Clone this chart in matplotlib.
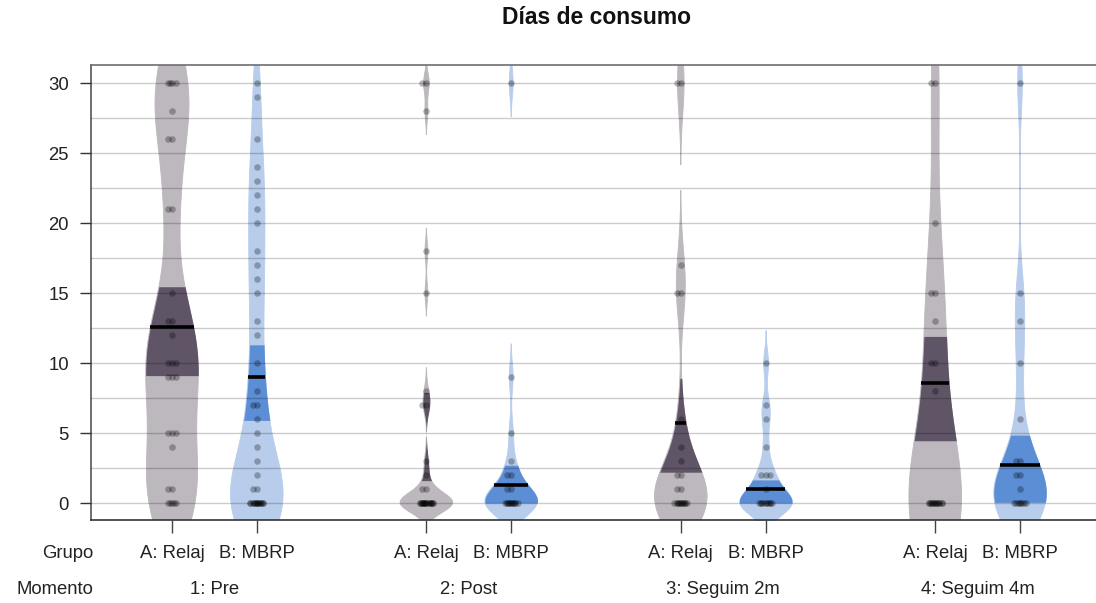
import numpy as np
import matplotlib
matplotlib.use("Agg")
import matplotlib.pyplot as plt
from matplotlib import mlab
from matplotlib.transforms import blended_transform_factory

plt.rcParams["font.family"] = ["Liberation Sans", "DejaVu Sans"]

TITULO = "Días de consumo"
GRUPOS = ["A: Relaj", "B: MBRP"]
MOMENTOS = ["1: Pre", "2: Post", "3: Seguim 2m", "4: Seguim 4m"]

pre_a = [30, 30, 30, 30, 28, 26, 26, 21, 21, 15, 13, 13, 12, 10, 10, 10,
         9, 9, 9, 5, 5, 5, 4, 1, 1, 0, 0, 0, 0, 0]
pre_b = [30, 29, 26, 24, 23, 22, 21, 20, 18, 17, 16, 15, 13, 12, 10, 8, 7, 7,
         6, 5, 4, 3, 2, 1, 1, 0, 0, 0, 0, 0, 0, 0, 0, 0, 0, 0, 0, 0, 0, 0]
post_a = [30, 30, 28, 18, 15, 8, 7, 7, 3, 2, 1, 1, 0, 0, 0, 0, 0, 0, 0, 0, 0,
          0, 0, 0, 0, 0, 0, 0, 0, 0]
post_b = [30, 9, 5, 3, 2, 2, 1, 1, 0, 0, 0, 0, 0, 0, 0, 0, 0, 0, 0, 0]
s2m_a = [30, 30, 17, 15, 15, 6, 4, 3, 2, 2, 1, 1, 0, 0, 0, 0, 0, 0, 0, 0, 0,
         0, 0, 0]
s2m_b = [10, 7, 6, 4, 2, 2, 2, 1, 0, 0, 0, 0, 0, 0, 0, 0, 0, 0]
s4m_a = [30, 30, 20, 15, 15, 13, 10, 10, 8, 0, 0, 0, 0, 0, 0, 0, 0, 0, 0, 0,
         0, 0, 0]
s4m_b = [30, 15, 13, 10, 6, 3, 3, 2, 2, 1, 0, 0, 0, 0, 0, 0, 0, 0]

DATOS = [pre_a, pre_b, post_a, post_b, s2m_a, s2m_b, s4m_a, s4m_b]

# media e intervalo de inferencia de cada bean
MEDIAS = [12.6, 9.0, 4.8, 1.3, 5.7, 1.0, 8.6, 2.75]
INF_BAJO = [9.1, 5.9, 1.6, 0.0, 2.2, 0.0, 4.45, 0.05]
INF_ALTO = [15.45, 11.3, 7.9, 2.7, 8.9, 1.65, 11.9, 4.85]

# ancho de banda del suavizado y corte de las colas de cada bean
BW = [3.3, 3.0, 0.7, 1.0, 2.2, 0.9, 5.0, 2.2]
CORTE = [1e-3, 1e-3, 3e-3, 4e-3, 4e-3, 3e-3, 1e-3, 1e-5]

POS = [1, 2, 4, 5, 7, 8, 10, 11]
COL_BEAN = ["#bdb7be", "#b8cdeb"]
COL_INF = ["#5f5566", "#5b8ed4"]
MEDIO_ANCHO = 0.31

fig = plt.figure(figsize=(10.96, 6.03), dpi=100)
ax = fig.add_axes([91 / 1096, 1 - 520 / 603, 1005 / 1096, 455 / 603])

for i, (d, x) in enumerate(zip(DATOS, POS)):
    d = np.asarray(d, dtype=float)
    bw = BW[i]
    kde = mlab.GaussianKDE(d, bw_method=bw / np.std(d, ddof=1))
    y = np.linspace(d.min() - 3 * bw, d.max() + 3 * bw, 800)
    dens = kde.evaluate(y)
    dmax = dens.max()
    w = dens / dmax * MEDIO_ANCHO
    visible = dens > CORTE[i] * dmax
    g = i % 2
    ax.fill_betweenx(y, x - w, x + w, where=visible, color=COL_BEAN[g],
                     lw=0.6, edgecolor=COL_BEAN[g], zorder=1)

    yb = np.linspace(INF_BAJO[i], INF_ALTO[i], 200)
    wb = kde.evaluate(yb) / dmax * MEDIO_ANCHO
    ax.fill_betweenx(yb, x - wb, x + wb, color=COL_INF[g], lw=0, zorder=2)

    wm = kde.evaluate(np.array([MEDIAS[i]]))[0] / dmax * MEDIO_ANCHO
    ax.plot([x - wm, x + wm], [MEDIAS[i], MEDIAS[i]], color="black", lw=2.6,
            solid_capstyle="butt", zorder=4)

    # puntos: los repetidos se separan un poco en horizontal
    vistos = {}
    desp = [0, -0.05, 0.05, -0.025, 0.025, -0.075, 0.075]
    xs = []
    for v in d:
        k = vistos.get(v, 0)
        vistos[v] = k + 1
        xs.append(x + desp[k % len(desp)])
    ax.scatter(xs, d, s=22, color="black", alpha=0.28, lw=0, zorder=3)

ax.set_xlim(0.045, 11.896)
ax.set_ylim(-1.214, 31.29)
ax.set_yticks(range(0, 31, 5))
ax.set_yticks(np.arange(2.5, 30, 5), minor=True)
ax.grid(axis="y", which="both", color="black", alpha=0.2, lw=1.0, zorder=5)
ax.set_axisbelow(False)
ax.set_xticks(POS)
ax.tick_params(axis="y", which="major", length=8, width=1, pad=8,
               labelsize=13.3, colors="#333333", labelcolor="#222222")
ax.tick_params(axis="y", which="minor", length=0)
ax.tick_params(axis="x", length=9, width=1, labelbottom=False, colors="#444444")

ax.spines["right"].set_visible(False)
ax.spines["top"].set_color("#6e6e6e")
ax.spines["left"].set_color("#555555")
ax.spines["bottom"].set_color("#333333")
for s in ["top", "left", "bottom"]:
    ax.spines[s].set_linewidth(1.2)

fig.text(597 / 1096, 1 - 18 / 603, TITULO, ha="center", va="center",
         fontsize=16.5, fontweight="bold", color="#111111")

trans = blended_transform_factory(ax.transData, fig.transFigure)
y_grupo = 1 - 553 / 603
y_momento = 1 - 590 / 603
fig.text(93 / 1096, y_grupo, "Grupo", ha="right", va="center", fontsize=13.3,
         color="#222222")
fig.text(93 / 1096, y_momento, "Momento", ha="right", va="center",
         fontsize=13.3, color="#222222")
for i, x in enumerate(POS):
    ax.text(x, y_grupo, GRUPOS[i % 2], transform=trans, ha="center",
            va="center", fontsize=13.3, color="#222222")
for j, m in enumerate(MOMENTOS):
    xc = (POS[2 * j] + POS[2 * j + 1]) / 2
    ax.text(xc, y_momento, m, transform=trans, ha="center", va="center",
            fontsize=13.3, color="#222222")

fig.savefig("out.png", dpi=100)
